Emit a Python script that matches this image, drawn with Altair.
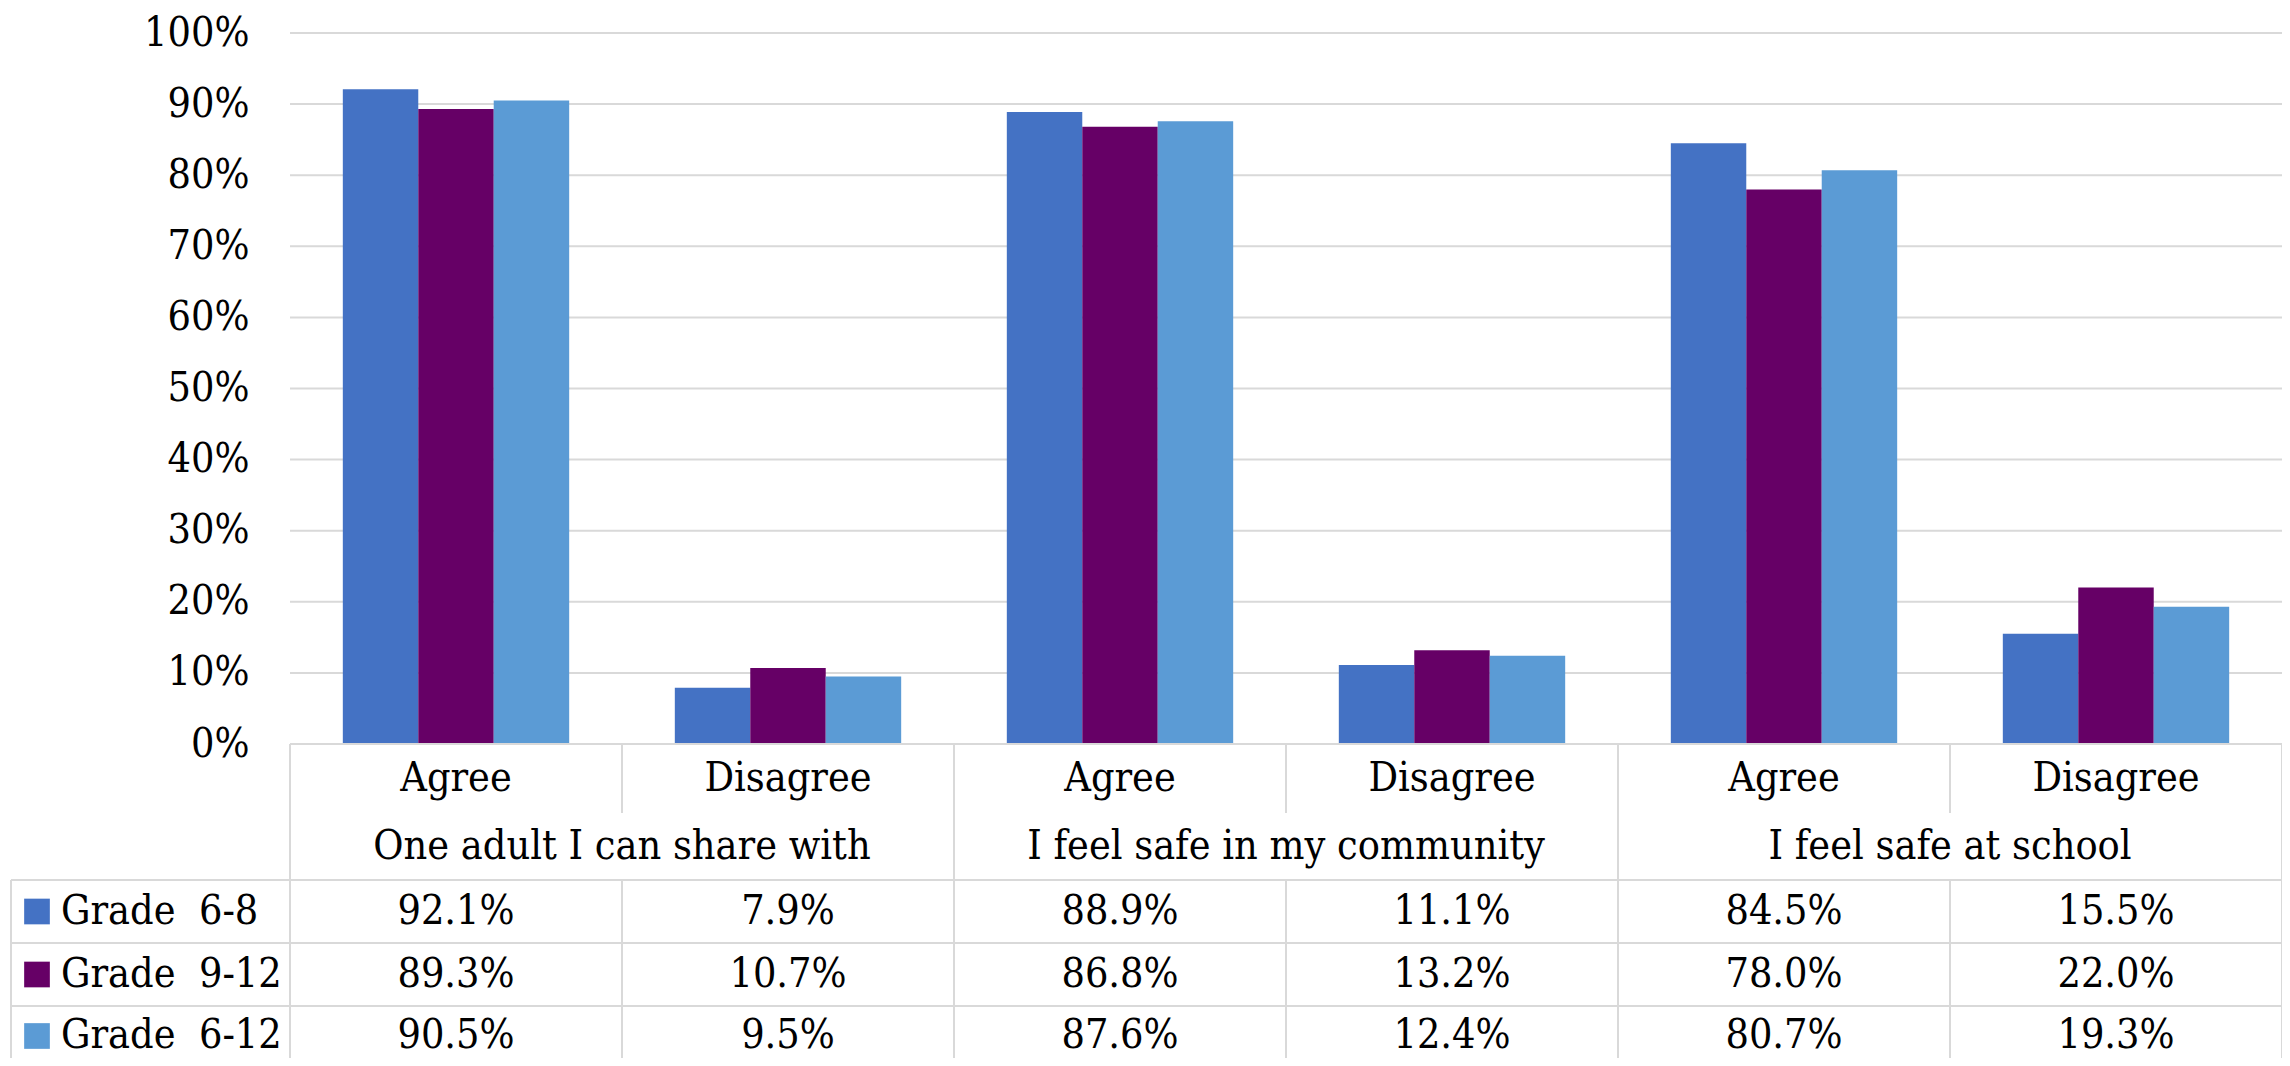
import altair as alt
import pandas as pd

# ---------------- data ----------------
groups = ["One adult I can share with", "I feel safe in my community", "I feel safe at school"]
responses = ["Agree", "Disagree"]
grades = ["Grade 6-8", "Grade 9-12", "Grade 6-12"]
grade_labels = ["Grade\u00a0\u00a06-8", "Grade\u00a0\u00a09-12", "Grade\u00a0\u00a06-12"]
grade_6_8 = [92.1, 7.9, 88.9, 11.1, 84.5, 15.5]
grade_9_12 = [89.3, 10.7, 86.8, 13.2, 78.0, 22.0]
grade_6_12 = [90.5, 9.5, 87.6, 12.4, 80.7, 19.3]
y_ticks = [0, 10, 20, 30, 40, 50, 60, 70, 80, 90, 100]
colors = ["#4472C4", "#660066", "#5B9BD5"]

# ---------------- layout / style ----------------
FONT = "'DejaVu Serif Condensed', 'DejaVu Serif', serif"
FS = 41
W, H = 2274, 1050
LEG_PX = 282                      # width of legend column (left of plot)
COL_PX = (W - LEG_PX) / 6
LEG = LEG_PX / COL_PX             # legend column width in column units
PLOT_TOP, PLOT_BOTTOM = 25, 736
ROW_EDGES = [736, 805, 872, 935, 998, 1058]
GRID = "#D9D9D9"

series = [grade_6_8, grade_9_12, grade_6_12]
n_cols = len(groups) * len(responses)

bar_rows = []
for k, (grade, vals) in enumerate(zip(grades, series)):
    for c, v in enumerate(vals):
        bar_rows.append({"grade": grade, "col": c, "value": v,
                         "label": f"{v:.1f}%", "xc": c + 0.5, "yr": 2.5 + k})
bars_df = pd.DataFrame(bar_rows)

col_df = pd.DataFrame([{"response": responses[c % 2], "xc": c + 0.5, "yr": 0.5}
                       for c in range(n_cols)])
grp_df = pd.DataFrame([{"group": g, "xc": 2 * i + 1, "yr": 1.5} for i, g in enumerate(groups)])
leg_df = pd.DataFrame([{"grade": g, "disp": lab, "xl": -LEG, "yr": 2.5 + k}
                       for k, (g, lab) in enumerate(zip(grades, grade_labels))])
grid_df = pd.DataFrame([{"v": t, "x0": 0, "x1": n_cols} for t in y_ticks[1:]])

# table border segments (structure of the data table)
LB = -LEG + 3 / COL_PX
segs = [{"x": 0, "x2": n_cols, "y": 0, "y2": 0}]
for r in [2, 3, 4, 5]:
    segs.append({"x": LB, "x2": n_cols, "y": r, "y2": r})
segs.append({"x": LB, "x2": LB, "y": 2, "y2": 5})
for c in [0, 2, 4, 6]:
    segs.append({"x": c, "x2": c, "y": 0, "y2": 5})
for c in [1, 3, 5]:
    segs.append({"x": c, "x2": c, "y": 0, "y2": 1})
    segs.append({"x": c, "x2": c, "y": 2, "y2": 5})
seg_df = pd.DataFrame(segs)

# ---------------- scales ----------------
def xlin():
    return alt.Scale(domain=[-LEG, n_cols], nice=False, zero=False)

def ypct():
    return alt.Scale(domain=[0, 100], range=[PLOT_BOTTOM, PLOT_TOP], nice=False, zero=False)

def ytab():
    return alt.Scale(domain=[0, 1, 2, 3, 4, 5], range=ROW_EDGES, nice=False, zero=False)

color_scale = alt.Scale(domain=grades, range=colors)

y_axis = alt.Axis(values=y_ticks, labelExpr="datum.value + '%'", domain=False, ticks=False,
                  grid=False, offset=-LEG_PX, labelPadding=41, labelFont=FONT,
                  labelFontSize=FS, labelColor="black", title="", labelOverlap=False)

grid = alt.Chart(grid_df).mark_rule(color=GRID, strokeWidth=2).encode(
    x=alt.X("x0:Q", scale=xlin(), axis=None), x2="x1:Q",
    y=alt.Y("v:Q", scale=ypct(), axis=None))

bars = alt.Chart(bars_df).mark_bar().encode(
    x=alt.X("col:O", scale=alt.Scale(type="band", domain=list(range(n_cols)), paddingInner=0,
                                       paddingOuter=LEG / 2, align=1), axis=None),
    xOffset=alt.XOffset("grade:N", sort=grades, scale=alt.Scale(paddingInner=0, paddingOuter=0.7)),
    y=alt.Y("value:Q", scale=ypct(), axis=y_axis),
    color=alt.Color("grade:N", scale=color_scale, legend=None))

rules = alt.Chart(seg_df).mark_rule(color=GRID, strokeWidth=2).encode(
    x=alt.X("x:Q", scale=xlin(), axis=None), x2="x2:Q",
    y=alt.Y("y:Q", scale=ytab(), axis=None), y2="y2:Q")

txt = dict(font=FONT, fontSize=FS, color="black", baseline="middle")

sub_text = alt.Chart(col_df).mark_text(align="center", **txt).encode(
    x=alt.X("xc:Q", scale=xlin(), axis=None), y=alt.Y("yr:Q", scale=ytab(), axis=None),
    text="response:N")

grp_text = alt.Chart(grp_df).mark_text(align="center", **txt).encode(
    x=alt.X("xc:Q", scale=xlin(), axis=None), y=alt.Y("yr:Q", scale=ytab(), axis=None),
    text="group:N")

val_text = alt.Chart(bars_df).mark_text(align="center", **txt).encode(
    x=alt.X("xc:Q", scale=xlin(), axis=None), y=alt.Y("yr:Q", scale=ytab(), axis=None),
    text="label:N")

leg_sq = alt.Chart(leg_df).mark_square(size=660, opacity=1, xOffset=29).encode(
    x=alt.X("xl:Q", scale=xlin(), axis=None), y=alt.Y("yr:Q", scale=ytab(), axis=None),
    color=alt.Color("grade:N", scale=color_scale, legend=None))

leg_text = alt.Chart(leg_df).mark_text(align="left", xOffset=53, **txt).encode(
    x=alt.X("xl:Q", scale=xlin(), axis=None), y=alt.Y("yr:Q", scale=ytab(), axis=None),
    text="disp:N")

chart = alt.layer(grid, bars, rules, sub_text, grp_text, val_text, leg_sq, leg_text).resolve_scale(
    x="independent", y="independent"
).properties(
    width=W, height=H, autosize=alt.AutoSizeParams(type="none"), padding=0
).configure_view(stroke="transparent")

chart.save("out.html", embed_options={"renderer": "svg", "actions": False})
